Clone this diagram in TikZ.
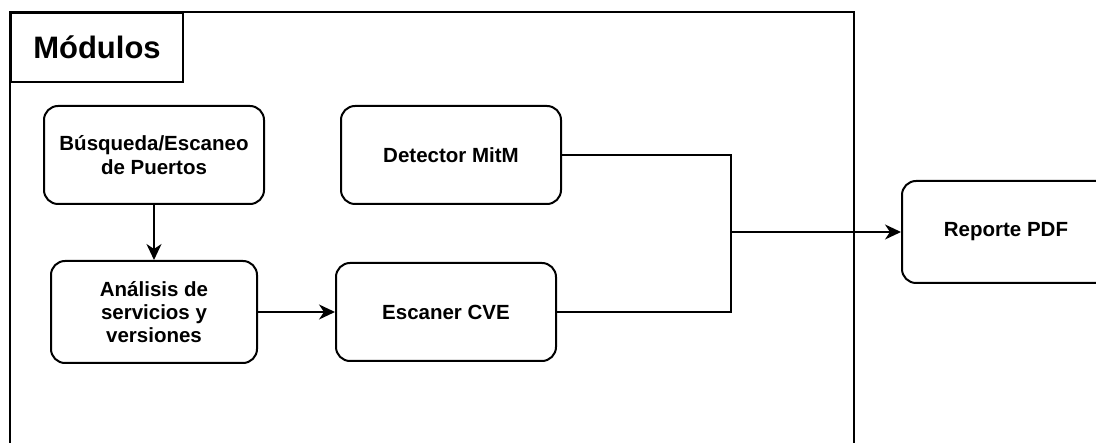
\documentclass[tikz,border=0pt]{standalone}
\usepackage{fontspec}
\setmainfont{Liberation Sans}
\usetikzlibrary{arrows.meta}
\begin{document}
\begin{tikzpicture}[x=1pt,y=-1pt,
  line width=2pt,
  module/.style={draw, rounded corners=14pt, align=center, inner sep=0pt,
    font=\bfseries\fontsize{20.5}{23.4}\selectfont},
  link/.style={-{Stealth[length=16pt,width=15pt,inset=5pt]}}]
  \useasboundingbox (0,0) rectangle (1096,443);
  \begin{scope}
    \clip (0,0) rectangle (1096,443);
    % outer container and its title tab
    \draw (10,460) -- (10,12) -- (854,12) -- (854,460);
    \node[draw, minimum width=172pt, minimum height=69pt, anchor=north west,
      inner sep=0pt, font=\bfseries\fontsize{31}{34}\selectfont] (title)
      at (10,12) {Módulos};
    % modules
    \node[module, minimum width=220pt, minimum height=98pt] (scan)
      at (154,155) {Búsqueda/Escaneo\\de Puertos};
    \node[module, minimum width=206pt, minimum height=102pt] (serv)
      at (154,312) {Análisis de\\servicios y\\versiones};
    \node[module, minimum width=220pt, minimum height=98pt] (mitm)
      at (451,155) {Detector MitM};
    \node[module, minimum width=220pt, minimum height=98pt] (cve)
      at (446,312) {Escaner CVE};
    \node[module, minimum width=208pt, minimum height=102pt] (pdf)
      at (1006,232) {Reporte PDF};
    \coordinate (join) at (731,232);
    % connectors
    \draw[link] (scan) -- (serv);
    \draw[link] (serv) -- (cve);
    \draw (mitm.east) -| (join);
    \draw (cve.east) -| (join);
    \draw[link] (join) -- (pdf.west);
  \end{scope}
\end{tikzpicture}
\end{document}
